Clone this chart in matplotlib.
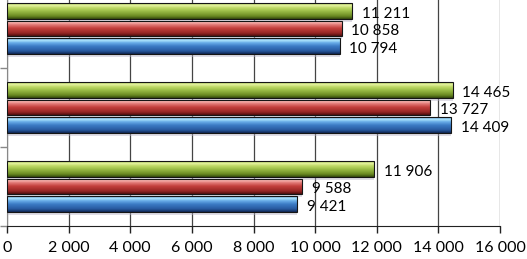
# -*- coding: utf-8 -*-

import numpy as np
import matplotlib
matplotlib.use("Agg")
import matplotlib.pyplot as plt
from matplotlib.colors import LinearSegmentedColormap

# data
categories = ["A", "B", "C"]
series_blue = [9421, 14409, 10794]
series_red = [9588, 13727, 10858]
series_green = [11906, 14465, 11211]
xticks = [0, 2000, 4000, 6000, 8000, 10000, 12000, 14000, 16000]

plt.rcParams['font.family'] = ['Lato', 'DejaVu Sans']


def fmt(v):
    return "{:,}".format(v).replace(",", " ")


# bar gradients: bottom -> top (position, colour)
grads = {
    "blue": [(0, "#0f2652"), (0.18, "#27589e"), (0.5, "#3c7cc6"),
             (0.72, "#6cb0ea"), (0.86, "#aee6fc"), (1, "#5f97d4")],
    "red": [(0, "#4e0e0e"), (0.18, "#962624"), (0.5, "#c4403d"),
            (0.72, "#e37c79"), (0.86, "#fbb8b4"), (1, "#d7625f")],
    "green": [(0, "#34480e"), (0.18, "#6a8a22"), (0.5, "#9cbe48"),
              (0.72, "#c2dc6a"), (0.86, "#e6f3a2"), (1, "#aacb56")],
}

fig = plt.figure(figsize=(5.27, 2.59), dpi=100)
ax = fig.add_axes([7 / 527, 33 / 259, 493 / 527, 226 / 259])

y = np.arange(len(categories))
h = 0.2
off = 0.22

for vals, dy, key in [(series_blue, -off, "blue"), (series_red, 0, "red"),
                      (series_green, off, "green")]:
    # soft shadow
    ax.barh(y + dy - 0.035, vals, height=h, left=0, color="#b8b4c8",
            alpha=0.45, zorder=2, linewidth=0)
    b = ax.barh(y + dy, vals, height=h, color="none",
                edgecolor="#151515", linewidth=0.8, zorder=4)
    cmap = LinearSegmentedColormap.from_list(key, grads[key])
    grad = np.linspace(0, 1, 64).reshape(-1, 1)
    for p, v in zip(b.patches, vals):
        x0, y0 = p.get_x(), p.get_y()
        im = ax.imshow(grad, cmap=cmap, aspect="auto", origin="lower",
                       extent=[x0, x0 + p.get_width(), y0, y0 + p.get_height()],
                       zorder=3, interpolation="bilinear")
        im.set_clip_path(p)
        ax.annotate(fmt(v), (v, y0 + p.get_height() / 2), xytext=(7, -2),
                    textcoords="offset points", va="center", ha="left",
                    fontsize=11, color="black", zorder=5)

ax.set_xlim(0, 16000)
ax.set_ylim(-0.5, 2.361)
ax.set_xticks(xticks)
ax.set_xticklabels([fmt(t) for t in xticks], fontsize=11.5, color="black")
ax.set_yticks([-0.5, 0.5, 1.5])
ax.set_yticklabels([])
ax.tick_params(axis="x", length=5, width=1, color="#222222", pad=6)
ax.tick_params(axis="y", length=5, width=1, color="#888888")
ax.xaxis.grid(True, color="#444444", linewidth=0.9, zorder=1)
ax.set_axisbelow(True)
for s in ["top", "right"]:
    ax.spines[s].set_visible(False)
ax.spines["bottom"].set_color("#222222")
ax.spines["left"].set_color("#888888")
ax.set_facecolor("white")

fig.savefig("out.png", dpi=100)
